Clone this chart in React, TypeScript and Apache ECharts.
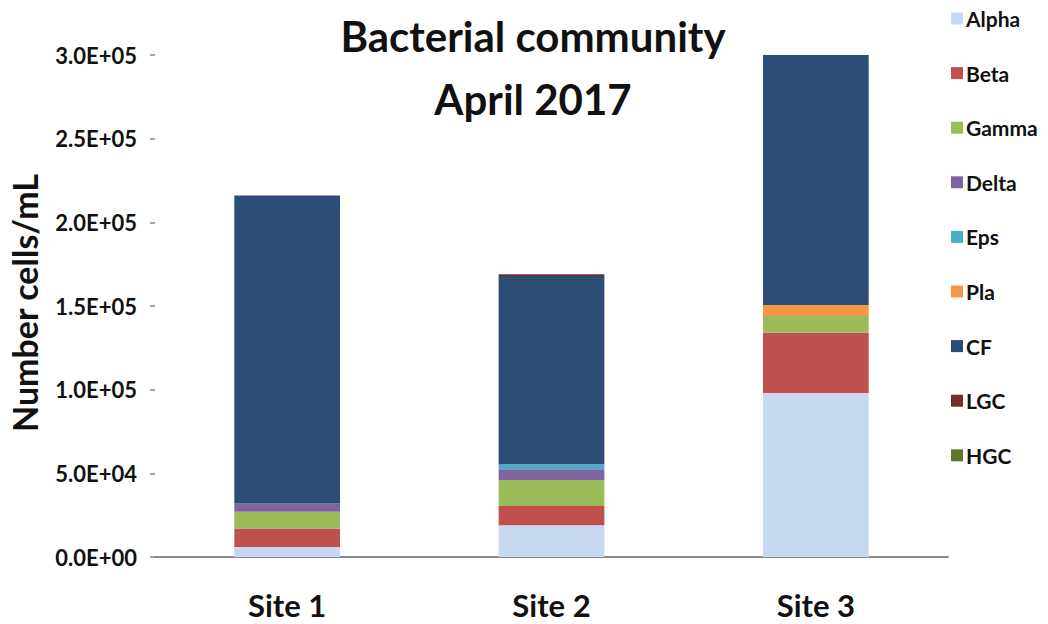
import React, { useEffect, useRef } from "react";
import * as echarts from "echarts";

const categories = ["Site 1", "Site 2", "Site 3"];
const seriesNames = ["Alpha", "Beta", "Gamma", "Delta", "Eps", "Pla", "CF", "LGC", "HGC"];
const alpha = [6000, 19000, 98000];
const beta = [11000, 11500, 36000];
const gamma = [10000, 15500, 10000];
const delta = [5000, 6500, 0];
const eps = [0, 3000, 0];
const pla = [0, 0, 6600];
const cf = [184000, 112500, 149400];
const lgc = [0, 1000, 0];
const hgc = [0, 0, 0];
const seriesValues = [alpha, beta, gamma, delta, eps, pla, cf, lgc, hgc];
const colors = ["#c6d9f1", "#c0504d", "#9bbb59", "#8064a2", "#4bacc6", "#f79646", "#2c4d75", "#772c2a", "#5f7530"];

const FONT = "Lato";

function sci(v: number): string {
  const s = v.toExponential(1);
  const [m, e] = s.split("e");
  const sign = e[0] === "-" ? "-" : "+";
  const digits = e.replace(/[+-]/, "").padStart(2, "0");
  return `${m}E${sign}${digits}`;
}

export default function App() {
  const ref = useRef<HTMLDivElement>(null);
  useEffect(() => {
    document.body.style.margin = "0";
    const chart = echarts.init(ref.current!, null, { renderer: "svg" });
    chart.setOption({
      animation: false,
      color: colors,
      title: {
        text: "Bacterial community\nApril 2017",
        left: 528,
        textAlign: "center",
        top: -1,
        textStyle: { fontFamily: FONT, fontWeight: "bold", fontSize: 42, lineHeight: 63, color: "#111" },
      },
      graphic: [
        {
          type: "text",
          x: 24,
          y: 303,
          rotation: Math.PI / 2,
          style: {
            text: "Number cells/mL",
            fontFamily: FONT,
            fontWeight: "bold",
            fontSize: 34,
            fill: "#111",
            textAlign: "center",
            textVerticalAlign: "middle",
          },
        },
      ],
      legend: {
        orient: "vertical",
        left: 946,
        top: 3,
        itemWidth: 12,
        itemHeight: 12,
        itemGap: 33.6,
        icon: "rect",
        data: seriesNames,
        textStyle: { fontFamily: FONT, fontWeight: "bold", fontSize: 21, lineHeight: 20, color: "#111", padding: [0, 0, 0, -2] },
      },
      grid: { left: 155, right: 100, top: 55, bottom: 67, containLabel: false },
      xAxis: {
        type: "category",
        data: categories,
        axisLine: { show: true, lineStyle: { color: "#8a8a8a", width: 2 } },
        axisTick: { show: false },
        axisLabel: { fontFamily: FONT, fontWeight: "bold", fontSize: 31, color: "#111", margin: 32 },
      },
      yAxis: {
        type: "value",
        min: 0,
        max: 300000,
        interval: 50000,
        axisLine: { show: false },
        axisTick: { show: true, length: 5, lineStyle: { color: "#8a8a8a", width: 1.5 } },
        splitLine: { show: false },
        axisLabel: { fontFamily: FONT, fontWeight: "bold", fontSize: 22, color: "#111", margin: 18, formatter: (v: number) => sci(v) },
      },
      series: seriesNames.map((name, i) => ({
        name,
        type: "bar",
        stack: "total",
        barWidth: "40%",
        data: seriesValues[i],
        itemStyle: { color: colors[i] },
      })),
    });
    return () => chart.dispose();
  }, []);
  return <div ref={ref} style={{ width: 1048, height: 624 }} />;
}
